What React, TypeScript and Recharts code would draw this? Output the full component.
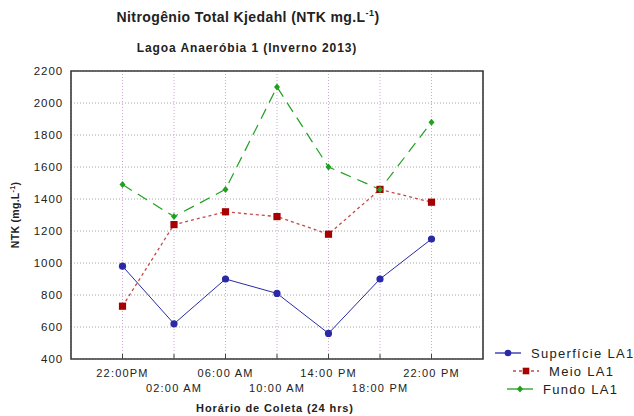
import React from "react";
import {
  LineChart,
  Line,
  XAxis,
  YAxis,
  CartesianGrid,
  ReferenceArea,
  Label,
} from "recharts";

const times = ["22:00PM", "02:00 AM", "06:00 AM", "10:00 AM", "14:00 PM", "18:00 PM", "22:00 PM"];
const superficie = [980, 620, 900, 810, 560, 900, 1150];
const meio = [730, 1240, 1320, 1290, 1180, 1460, 1380];
const fundo = [1490, 1290, 1460, 2100, 1600, 1460, 1880];
const yTicks = [400, 600, 800, 1000, 1200, 1400, 1600, 1800, 2000, 2200];
const xTicks = [0, 1, 2, 3, 4, 5, 6];
const seriesNames = ["Superfície LA1", "Meio LA1", "Fundo LA1"];

const data = times.map((t, i) => ({
  idx: i,
  time: t,
  superficie: superficie[i],
  meio: meio[i],
  fundo: fundo[i],
}));

const FONT = "Arial, 'Liberation Sans', sans-serif";
const BLUE = "#2a2aa8";
const RED = "#a80000";
const RED_LINE = "#c84848";
const GREEN = "#1fa01f";

const BlueDot = (p: any) => <circle key={p.key} cx={p.cx} cy={p.cy} r={3.6} fill={BLUE} />;
const RedDot = (p: any) => <rect key={p.key} x={p.cx - 3.6} y={p.cy - 3.6} width={7.2} height={7.2} fill={RED} />;
const GreenDot = (p: any) => (
  <polygon
    key={p.key}
    points={`${p.cx},${p.cy - 3.5} ${p.cx + 3},${p.cy} ${p.cx},${p.cy + 3.5} ${p.cx - 3},${p.cy}`}
    fill={GREEN}
  />
);

const TimeTick = (props: any) => {
  const { x, y, payload } = props;
  const i = payload.value as number;
  const dy = i % 2 === 0 ? 10 : 25;
  return (
    <text x={x} y={y + dy} textAnchor="middle" fontFamily={FONT} fontSize={11} letterSpacing={1.2} fill="#222">
      {times[i]}
    </text>
  );
};

const YLabel = (props: any) => {
  const vb = props.viewBox || { x: 11, y: 71, width: 60, height: 288 };
  const lx = vb.x + 8;
  const ly = vb.y + vb.height / 2;
  return (
    <text
      x={lx}
      y={ly}
      transform={`rotate(-90 ${lx} ${ly})`}
      textAnchor="middle"
      fontFamily={FONT}
      fontSize={10.5}
      fontWeight="bold"
      letterSpacing={0.3}
      fill="#222"
    >
      NTK (mg.L
      <tspan dy={-4} fontSize={7}>-1</tspan>
      <tspan dy={4}>)</tspan>
    </text>
  );
};

const XLabel = (props: any) => {
  const vb = props.viewBox || { x: 71, y: 359, width: 412, height: 57 };
  return (
    <text
      x={vb.x + vb.width / 2 - 2}
      y={vb.y + 53}
      textAnchor="middle"
      fontFamily={FONT}
      fontSize={11}
      fontWeight="bold"
      letterSpacing={0.9}
      fill="#222"
    >
      Horário de Coleta (24 hrs)
    </text>
  );
};

function LegendBox() {
  const rows = [
    { name: seriesNames[0], color: BLUE, line: BLUE, dash: undefined, x0: 5, dot: "circle" },
    { name: seriesNames[1], color: RED, line: RED_LINE, dash: "3 3", x0: 23, dot: "square" },
    { name: seriesNames[2], color: GREEN, line: GREEN, dash: undefined, x0: 17, dot: "diamond" },
  ];
  return (
    <svg width={144} height={64} style={{ position: "absolute", left: 490, top: 340 }}>
      {rows.map((r, i) => {
        const cy = 13 + i * 18;
        const mx = r.x0 + 13;
        return (
          <g key={r.name}>
            <line x1={r.x0} x2={r.x0 + 26} y1={cy} y2={cy} stroke={r.line} strokeWidth={1.3} strokeDasharray={r.dash} />
            {r.dot === "circle" && <circle cx={mx} cy={cy} r={3.3} fill={r.color} />}
            {r.dot === "square" && <rect x={mx - 3.3} y={cy - 3.3} width={6.6} height={6.6} fill={r.color} />}
            {r.dot === "diamond" && (
              <polygon points={`${mx},${cy - 3.5} ${mx + 3},${cy} ${mx},${cy + 3.5} ${mx - 3},${cy}`} fill={r.color} />
            )}
            <text x={r.x0 + 36} y={cy + 5} fontFamily={FONT} fontSize={13} letterSpacing={1.3} fill="#222">
              {r.name}
            </text>
          </g>
        );
      })}
    </svg>
  );
}

export default function App() {
  return (
    <div style={{ position: "absolute", left: 0, top: 0, width: 634, height: 416, background: "#fff" }}>
      <div
        style={{
          position: "absolute",
          left: 248,
          top: 8,
          transform: "translateX(-50%)",
          whiteSpace: "nowrap",
          fontFamily: FONT,
          fontSize: 14,
          fontWeight: "bold",
          letterSpacing: 0.4,
          color: "#222",
        }}
      >
        Nitrogênio Total Kjedahl (NTK mg.L<sup style={{ fontSize: 9 }}>-1</sup>)
      </div>
      <div
        style={{
          position: "absolute",
          left: 247,
          top: 41,
          transform: "translateX(-50%)",
          whiteSpace: "nowrap",
          fontFamily: FONT,
          fontSize: 12,
          fontWeight: "bold",
          letterSpacing: 0.9,
          color: "#222",
        }}
      >
        Lagoa Anaeróbia 1 (Inverno 2013)
      </div>
      <LineChart width={634} height={416} data={data} margin={{ top: 70, right: 151, bottom: 0, left: 11 }}>
        <CartesianGrid horizontal={true} vertical={false} stroke="#a8a8a8" strokeDasharray="1 2" />
        <CartesianGrid horizontal={false} vertical={true} stroke="#cfa6cf" strokeDasharray="1 2" />
        <XAxis
          dataKey="idx"
          type="number"
          domain={[-1, 7]}
          ticks={xTicks}
          height={57}
          axisLine={false}
          tickLine={{ stroke: "#444" }}
          tickSize={-5}
          tickMargin={13}
          tick={<TimeTick />}
          interval={0}
        >
          <Label content={<XLabel />} />
        </XAxis>
        <XAxis
          xAxisId="top"
          orientation="top"
          dataKey="idx"
          type="number"
          domain={[-1, 7]}
          ticks={xTicks}
          height={1}
          axisLine={false}
          tickLine={{ stroke: "#444" }}
          tickSize={-5}
          tick={false}
          interval={0}
        />
        <YAxis
          domain={[400, 2200]}
          ticks={yTicks}
          width={60}
          axisLine={false}
          tickLine={false}
          tick={{ fontFamily: FONT, fontSize: 11.5, fill: "#222", letterSpacing: 0.9 }}
          interval={0}
        >
          <Label content={<YLabel />} />
        </YAxis>
        <ReferenceArea x1={-1} x2={7} y1={400} y2={2200} fill="none" stroke="#3a3a3a" strokeWidth={1.6} ifOverflow="visible" />
        <Line
          dataKey="superficie"
          name={seriesNames[0]}
          stroke={BLUE}
          strokeWidth={1}
          dot={BlueDot}
          isAnimationActive={false}
        />
        <Line
          dataKey="meio"
          name={seriesNames[1]}
          stroke={RED_LINE}
          strokeWidth={1.3}
          strokeDasharray="3 3"
          dot={RedDot}
          isAnimationActive={false}
        />
        <Line
          dataKey="fundo"
          name={seriesNames[2]}
          stroke={GREEN}
          strokeWidth={1.2}
          strokeDasharray="11 7"
          dot={GreenDot}
          isAnimationActive={false}
        />
      </LineChart>
      <LegendBox />
    </div>
  );
}
